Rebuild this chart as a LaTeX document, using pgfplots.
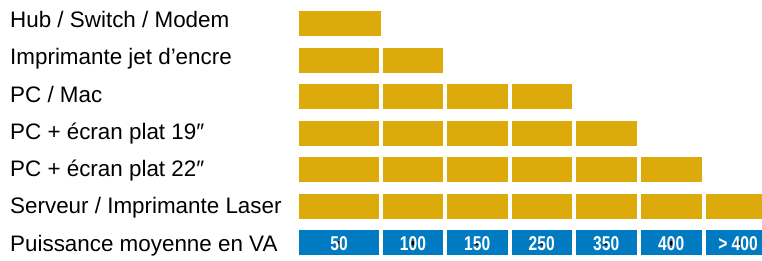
\documentclass[border=0pt]{standalone}
\usepackage{fontspec}
\setmainfont{Liberation Sans}
\newfontfamily\lblfont{Liberation Sans Bold}[FakeStretch=0.78]
\usepackage{pgfplots}
\pgfplotsset{compat=1.18}
\usepackage{pgfplotstable}
\definecolor{gold}{RGB}{221,170,12}
\definecolor{vablue}{RGB}{0,122,193}

% y = row centre (image pixels from top); c1..c7 = cell widths (0 = no cell)
\pgfplotstableread{
y     base c1 c2 c3   c4   c5   c6   c7
23.5  297  86 0  0    0    0    0    0
60.1  297  84 64 0    0    0    0    0
96.6  297  84 64 64.5 64.5 0    0    0
133.2 297  84 64 64.5 64.5 64.5 0    0
169.8 297  84 64 64.5 64.5 64.5 65.5 0
206.3 297  84 64 64.5 64.5 64.5 65.5 60
}\gold
\pgfplotstableread{
y     base c1 c2 c3   c4   c5   c6   c7
242.9 297  84 64 64.5 64.5 64.5 65.5 60
}\blue

\pgfplotsset{
  common/.style={
    scale only axis, width=762pt, height=260pt,
    at={(0pt,0pt)}, anchor=south west,
    xmin=0, xmax=762, ymin=0, ymax=260, y dir=reverse,
    axis line style={draw=none}, major tick length=0pt,
    xtick=\empty, ytick=\empty,
  },
}

\begin{document}
\begin{tikzpicture}
\path[use as bounding box] (0pt,0pt) rectangle (762pt,260pt);

% gold rows
\begin{axis}[common, xbar stacked, bar width=29pt,
  ytick={27.3,64.6,102.0,139.3,176.6,213.9,251.3},
  yticklabels={Hub / Switch / Modem, Imprimante jet d’encre, PC / Mac,
    PC + écran plat 19″, PC + écran plat 22″, Serveur / Imprimante Laser,
    Puissance moyenne en VA},
  yticklabel style={anchor=base west, inner sep=0pt, xshift=10pt,
    font=\fontsize{22.4}{26}\selectfont, text=black},
]
\addplot[draw=none, fill=none] table[x=base, y=y] {\gold};
\foreach \c in {c1,c2,c3,c4,c5,c6,c7}{
  \addplot[fill=gold, draw=white, line width=4pt] table[x=\c, y=y] {\gold};
}
\end{axis}

% blue row
\begin{axis}[common, xbar stacked, bar width=29pt]
\addplot[draw=none, fill=none] table[x=base, y=y] {\blue};
\foreach \c in {c1,c2,c3,c4,c5,c6,c7}{
  \addplot[fill=vablue, draw=white, line width=4pt] table[x=\c, y=y] {\blue};
}
\end{axis}

% labels of the blue row
\begin{axis}[common]
\addplot[only marks, mark=*, mark options={draw=none, fill=none},
  nodes near coords, point meta=explicit symbolic,
  every node near coord/.append style={anchor=center, text=white,
    font=\lblfont\fontsize{20}{22}\selectfont}]
  coordinates {
    (339,243.2) [50]
    (413,243.2) [100]
    (477.25,243.2) [150]
    (541.75,243.2) [250]
    (606.25,243.2) [350]
    (671.25,243.2) [400]
    (738,243.2) [{> 400}]
  };
\end{axis}
\end{tikzpicture}
\end{document}
